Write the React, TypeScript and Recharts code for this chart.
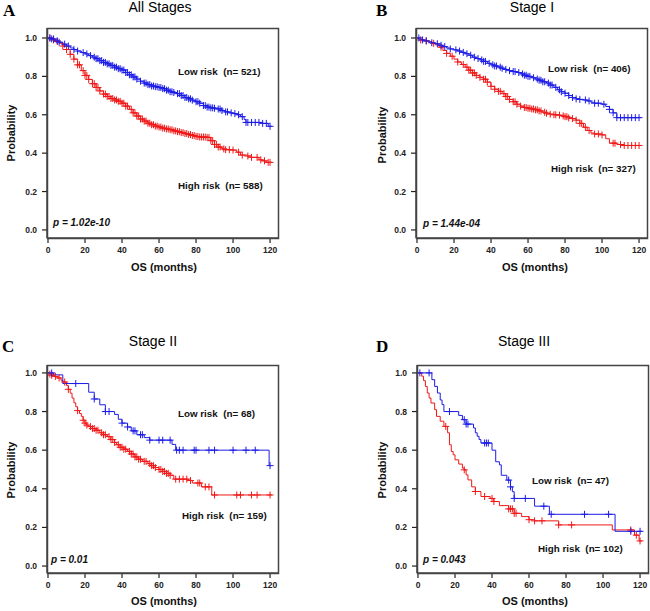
import { ComposedChart, Line, Scatter, XAxis, YAxis } from "recharts";

type Pt = [number, number];

const monthTicks = [0, 20, 40, 60, 80, 100, 120];
const probTicks = [0, 0.2, 0.4, 0.6, 0.8, 1.0];

// A - All Stages
const allLow: Pt[] = [
  [0, 1], [2, 0.995], [4, 0.985], [6, 0.978], [8, 0.968], [10, 0.958], [12, 0.948], [14, 0.94],
  [16, 0.932], [18, 0.924], [20, 0.917], [22, 0.908], [24, 0.9], [26, 0.892], [28, 0.882],
  [30, 0.873], [32, 0.865], [34, 0.857], [36, 0.848], [38, 0.84], [40, 0.833], [42, 0.82],
  [44, 0.808], [46, 0.797], [48, 0.786], [50, 0.775], [52, 0.765], [54, 0.757], [56, 0.75],
  [58, 0.746], [60, 0.742], [62, 0.736], [64, 0.728], [66, 0.72], [68, 0.716], [70, 0.71],
  [72, 0.7], [74, 0.69], [76, 0.683], [78, 0.676], [80, 0.668], [82, 0.66], [84, 0.648],
  [86, 0.64], [88, 0.636], [90, 0.634], [92, 0.63], [94, 0.622], [96, 0.615], [98, 0.61],
  [100, 0.606], [102, 0.6], [104, 0.59], [106, 0.575], [107, 0.56], [116, 0.555], [119, 0.54],
  [121, 0.54],
];
const allHigh: Pt[] = [
  [0, 1], [2, 0.99], [4, 0.982], [6, 0.972], [8, 0.958], [10, 0.94], [12, 0.915], [14, 0.89],
  [16, 0.86], [18, 0.83], [20, 0.805], [22, 0.784], [24, 0.762], [26, 0.742], [28, 0.724],
  [30, 0.708], [32, 0.695], [34, 0.685], [36, 0.677], [38, 0.67], [40, 0.66], [42, 0.645],
  [44, 0.628], [46, 0.61], [48, 0.593], [50, 0.578], [52, 0.567], [54, 0.556], [56, 0.548],
  [58, 0.541], [60, 0.536], [62, 0.53], [64, 0.526], [66, 0.522], [68, 0.516], [70, 0.512],
  [72, 0.507], [74, 0.502], [76, 0.497], [78, 0.492], [80, 0.487], [82, 0.484], [86, 0.482],
  [88, 0.465], [90, 0.445], [92, 0.432], [94, 0.422], [96, 0.418], [100, 0.416], [102, 0.405],
  [104, 0.39], [108, 0.385], [110, 0.378], [114, 0.365], [116, 0.36], [118, 0.352], [121, 0.352],
];
const allLowCensor = [
  1, 2, 3, 5, 6, 9, 11, 14, 16, 19, 21, 23, 25, 26, 27, 28, 29, 30, 31, 32, 33, 34, 35, 36, 37, 38,
  39, 40, 41, 42, 43, 44, 45, 46, 47, 48, 50, 52, 53, 54, 55, 56, 57, 58, 59, 60, 61, 62, 63, 64,
  65, 66, 67, 68, 70, 71, 72, 73, 74, 75, 76, 77, 78, 80, 81, 82, 84, 85, 86, 87, 88, 89, 90, 92,
  93, 94, 96, 97, 99, 101, 103, 105, 107, 108, 110, 112, 114, 116, 118, 120,
];
const allHighCensor = [
  1, 3, 5, 8, 10, 12, 14, 16, 17, 19, 20, 21, 22, 24, 25, 26, 27, 28, 30, 31, 32, 33, 34, 35, 36,
  37, 38, 39, 40, 41, 42, 43, 45, 46, 47, 48, 49, 50, 51, 52, 53, 54, 55, 56, 57, 58, 59, 60, 61,
  62, 63, 64, 65, 66, 67, 68, 69, 70, 71, 72, 73, 74, 75, 76, 77, 78, 79, 80, 81, 82, 83, 84, 85,
  86, 87, 88, 89, 90, 91, 92, 93, 95, 96, 98, 100, 103, 105, 108, 110, 113, 115, 117, 119, 120,
];

// B - Stage I
const s1Low: Pt[] = [
  [0, 1], [2, 0.99], [4, 0.985], [6, 0.98], [8, 0.975], [10, 0.97], [12, 0.962], [14, 0.955],
  [16, 0.948], [18, 0.943], [20, 0.938], [22, 0.932], [24, 0.925], [26, 0.918], [28, 0.91],
  [30, 0.9], [32, 0.893], [34, 0.886], [36, 0.878], [38, 0.868], [40, 0.86], [42, 0.854],
  [44, 0.848], [46, 0.842], [48, 0.836], [50, 0.83], [52, 0.825], [54, 0.82], [56, 0.813],
  [58, 0.806], [60, 0.8], [62, 0.793], [64, 0.786], [66, 0.78], [68, 0.772], [70, 0.765],
  [72, 0.755], [74, 0.743], [76, 0.73], [78, 0.72], [80, 0.712], [82, 0.7], [84, 0.69],
  [86, 0.683], [88, 0.68], [90, 0.677], [92, 0.672], [94, 0.665], [96, 0.66], [100, 0.655],
  [102, 0.643], [104, 0.628], [106, 0.61], [108, 0.585], [121, 0.585],
];
const s1High: Pt[] = [
  [0, 1], [2, 0.99], [4, 0.985], [6, 0.98], [8, 0.972], [10, 0.964], [12, 0.952], [14, 0.935],
  [16, 0.92], [18, 0.905], [20, 0.89], [22, 0.875], [24, 0.862], [26, 0.848], [28, 0.832],
  [30, 0.818], [32, 0.805], [34, 0.795], [36, 0.785], [38, 0.77], [40, 0.748], [42, 0.733],
  [44, 0.722], [46, 0.71], [48, 0.695], [50, 0.68], [52, 0.668], [54, 0.655], [56, 0.645],
  [58, 0.638], [60, 0.634], [62, 0.63], [64, 0.626], [66, 0.62], [68, 0.613], [70, 0.608],
  [72, 0.603], [74, 0.6], [76, 0.598], [78, 0.594], [80, 0.59], [82, 0.584], [84, 0.58],
  [86, 0.572], [88, 0.555], [90, 0.535], [92, 0.518], [94, 0.505], [96, 0.5], [100, 0.495],
  [102, 0.475], [104, 0.452], [108, 0.445], [112, 0.44], [121, 0.44],
];
const s1LowCensor = [
  1, 3, 5, 8, 11, 13, 15, 18, 21, 23, 25, 27, 29, 31, 33, 35, 36, 37, 39, 41, 42, 43, 45, 46, 48,
  50, 52, 53, 55, 57, 58, 59, 60, 61, 63, 65, 66, 67, 68, 69, 71, 72, 73, 75, 77, 78, 80, 82, 84,
  86, 88, 91, 93, 96, 98, 101, 104, 106, 108, 110, 112, 114, 116, 118, 120,
];
const s1HighCensor = [
  2, 5, 9, 13, 16, 19, 22, 25, 27, 28, 29, 30, 31, 32, 34, 36, 37, 38, 40, 42, 44, 45, 47, 48, 49,
  50, 52, 53, 54, 56, 58, 59, 60, 61, 62, 63, 64, 65, 66, 67, 69, 70, 72, 74, 75, 77, 79, 80, 81,
  82, 84, 86, 88, 89, 91, 93, 96, 98, 100, 106, 107, 110, 112, 114, 116, 118, 120,
];

// C - Stage II
const s2Low: Pt[] = [
  [0, 1], [3, 0.99], [8, 0.945], [22, 0.9], [25, 0.865], [28, 0.835], [31, 0.8], [36, 0.785],
  [38, 0.76], [40, 0.74], [43, 0.72], [45, 0.7], [48, 0.68], [52, 0.665], [55, 0.652],
  [67, 0.63], [69, 0.6], [119.5, 0.52], [120.5, 0.52],
];
const s2High: Pt[] = [
  [0, 1], [1, 0.994], [2, 0.988], [3, 0.982], [5, 0.974], [7, 0.962], [8, 0.953], [10, 0.935],
  [11, 0.915], [12, 0.895], [13, 0.87], [14, 0.845], [15, 0.825], [16, 0.805], [17, 0.79],
  [18, 0.775], [19, 0.755], [20, 0.74], [21, 0.73], [22, 0.722], [24, 0.712], [26, 0.703],
  [28, 0.69], [30, 0.68], [32, 0.67], [34, 0.655], [36, 0.64], [37, 0.628], [39, 0.615],
  [41, 0.605], [43, 0.594], [45, 0.58], [47, 0.565], [49, 0.553], [51, 0.542], [54, 0.53],
  [56, 0.52], [58, 0.51], [60, 0.5], [62, 0.49], [64, 0.48], [66, 0.47], [68, 0.45], [76, 0.443],
  [78, 0.43], [83, 0.41], [88.5, 0.368], [121, 0.368],
];
const s2LowCensor = [
  2, 15, 25, 31, 33, 40, 43, 46, 47, 50, 51, 55, 60, 62, 66, 69.5, 71, 73, 79, 80, 87, 90, 100,
  107, 112, 120,
];
const s2HighCensor = [
  1, 2, 4, 6, 9, 11, 16, 19, 20, 21, 23, 24, 25, 26, 27, 29, 30, 31, 33, 34, 35, 36, 38, 39, 40,
  41, 42, 44, 45, 46, 47, 48, 49, 50, 52, 53, 55, 56, 57, 58, 60, 61, 62, 63, 64, 65, 66, 69, 71,
  73, 75, 77, 81, 82, 85, 87, 90, 102, 104, 110, 113, 120,
];

// D - Stage III
const s3Low: Pt[] = [
  [0, 1], [7.5, 0.965], [9, 0.93], [10.5, 0.896], [12, 0.86], [13, 0.836], [14, 0.8], [22, 0.78],
  [24, 0.758], [26, 0.735], [30, 0.715], [31, 0.69], [32, 0.672], [33, 0.655], [34, 0.637],
  [40, 0.6], [42, 0.54], [44, 0.524], [45, 0.47], [48, 0.445], [50, 0.41], [51, 0.385],
  [52, 0.35], [63, 0.31], [71, 0.268], [106.5, 0.18], [121, 0.18],
];
const s3High: Pt[] = [
  [0, 1], [2, 0.983], [3, 0.96], [4, 0.93], [5, 0.896], [6, 0.87], [7, 0.844], [9, 0.81],
  [10, 0.775], [12, 0.75], [14, 0.723], [16, 0.69], [17, 0.628], [18, 0.593], [19, 0.576],
  [20, 0.55], [22, 0.528], [24, 0.507], [25, 0.498], [26, 0.472], [27, 0.446], [29, 0.41],
  [31, 0.386], [34, 0.36], [39, 0.35], [41, 0.334], [44, 0.313], [49, 0.296], [52, 0.273],
  [56, 0.256], [60, 0.24], [63, 0.234], [76, 0.213], [105, 0.187], [117, 0.16], [119.5, 0.13],
  [121, 0.13],
];
const s3LowCensor = [1, 6, 17, 25, 26, 27, 36, 37, 38, 49, 50, 52, 58, 68, 72, 90, 103, 115, 120];
const s3HighCensor = [15, 25, 31, 36, 40, 41, 49, 50, 51, 52, 53, 60, 63, 67, 76, 83, 115, 118, 120];

const BLUE = "#1c1ce6";
const RED = "#f01818";
const BOX = "#444";
const FONT = "Arial, 'Liberation Sans', sans-serif";

const rows = (pts: Pt[]) => pts.map(([t, s]) => ({ t, s }));

// value of the KM step curve at time t
const survAt = (pts: Pt[], t: number) => {
  let s = pts[0][1];
  for (const [pt, ps] of pts) {
    if (pt <= t) s = ps;
  }
  return s;
};

const censorRows = (pts: Pt[], times: number[]) => times.map((t) => ({ t, s: survAt(pts, t) }));

const plus = (color: string) => (props: any) => {
  const { cx, cy } = props;
  if (cx == null || cy == null) return <g />;
  return <path d={`M${cx - 3.5},${cy}h7M${cx},${cy - 3.5}v7`} stroke={color} strokeWidth={1} fill="none" />;
};

const tickStyle = { fontSize: 8.5, fontWeight: 700, fill: "#222", fontFamily: FONT };

function KMPanel(props: {
  left: number;
  top: number;
  plotHeight: number;
  yDomain: [number, number];
  low: Pt[];
  high: Pt[];
  lowCensor: number[];
  highCensor: number[];
}) {
  const { left, top, plotHeight, yDomain, low, high, lowCensor, highCensor } = props;
  const xDomain: [number, number] = [-0.54, 124.3];
  const h = 28 + plotHeight + 62;
  return (
    <div style={{ position: "absolute", left, top, width: 282, height: h }}>
      <ComposedChart width={282} height={h} margin={{ top: 28, right: 4, left: 0, bottom: 0 }}>
        <XAxis
          type="number"
          dataKey="t"
          domain={xDomain}
          ticks={monthTicks}
          allowDataOverflow
          axisLine={{ stroke: BOX, strokeWidth: 1.5 }}
          tickLine={{ stroke: "#222", strokeWidth: 1.2 }}
          tickSize={5}
          tickMargin={4}
          height={62}
          tick={tickStyle}
          interval={0}
        />
        <YAxis
          type="number"
          dataKey="s"
          domain={yDomain}
          ticks={probTicks}
          allowDataOverflow
          axisLine={{ stroke: BOX, strokeWidth: 1.5 }}
          tickLine={{ stroke: "#222", strokeWidth: 1.2 }}
          tickSize={5}
          tickMargin={5}
          width={47}
          tick={tickStyle}
          tickFormatter={(v: number) => v.toFixed(1)}
          interval={0}
        />
        <Line data={rows(high)} dataKey="s" type="stepAfter" stroke={RED} strokeWidth={1} dot={false} isAnimationActive={false} />
        <Line data={rows(low)} dataKey="s" type="stepAfter" stroke={BLUE} strokeWidth={1} dot={false} isAnimationActive={false} />
        <Scatter data={censorRows(high, highCensor)} dataKey="s" shape={plus(RED)} isAnimationActive={false} />
        <Scatter data={censorRows(low, lowCensor)} dataKey="s" shape={plus(BLUE)} isAnimationActive={false} />
      </ComposedChart>
    </div>
  );
}

const panelLetters = ["A", "B", "C", "D"];
const panelTitles = ["All Stages", "Stage I", "Stage II", "Stage III"];
const lowLabels = ["Low risk  (n= 521)", "Low risk  (n= 406)", "Low risk  (n= 68)", "Low risk  (n= 47)"];
const highLabels = ["High risk  (n= 588)", "High risk  (n= 327)", "High risk  (n= 159)", "High risk  (n= 102)"];
const pValues = ["p = 1.02e-10", "p = 1.44e-04", "p = 0.01", "p = 0.043"];

// layout (pixels in the 650x611 figure)
const boxes = [
  { x: 47, y: 28, w: 231, h: 210 },
  { x: 416, y: 28, w: 231, h: 210 },
  { x: 47, y: 365, w: 231, h: 208 },
  { x: 417, y: 365, w: 231, h: 208 },
];
const letterPos: Pt[] = [[3, 16], [376, 15.5], [2, 352], [376, 352]];
const titlePos: Pt[] = [[160, 12], [532, 12], [153, 346], [524, 346]];
const lowPos: Pt[] = [[178, 75], [548, 72], [178, 417], [532, 484]];
const highPos: Pt[] = [[178, 189], [551, 172], [182, 519], [538, 552]];
const pPos: Pt[] = [[53, 226], [423, 227], [51, 563], [423, 563]];
const xLabelPos: Pt[] = [[164, 271], [535, 271], [164, 605], [535, 605]];
const yLabelPos: Pt[] = [[14.5, 133], [385.5, 135], [14.5, 470], [385.5, 470]];

export default function App() {
  const boldText = { fontFamily: FONT, fontWeight: 700, fill: "#111" } as const;
  return (
    <div style={{ position: "absolute", left: 0, top: 0, width: 650, height: 611, background: "#fff", overflow: "hidden" }}>
      <KMPanel left={0} top={0} plotHeight={210} yDomain={[-0.042, 1.052]} low={allLow} high={allHigh} lowCensor={allLowCensor} highCensor={allHighCensor} />
      <KMPanel left={369} top={0} plotHeight={210} yDomain={[-0.042, 1.052]} low={s1Low} high={s1High} lowCensor={s1LowCensor} highCensor={s1HighCensor} />
      <KMPanel left={0} top={337} plotHeight={208} yDomain={[-0.036, 1.041]} low={s2Low} high={s2High} lowCensor={s2LowCensor} highCensor={s2HighCensor} />
      <KMPanel left={370} top={337} plotHeight={208} yDomain={[-0.036, 1.041]} low={s3Low} high={s3High} lowCensor={s3LowCensor} highCensor={s3HighCensor} />
      <svg width={650} height={611} style={{ position: "absolute", left: 0, top: 0 }}>
        {boxes.map((b, i) => (
          <path
            key={"b" + i}
            d={`M${b.x + 0.5},${b.y + 0.5}H${b.x + b.w + 0.5}V${b.y + b.h + 0.5}H${b.x + 0.5}Z`}
            fill="none"
            stroke={BOX}
            strokeWidth={1.5}
          />
        ))}
        {panelLetters.map((l, i) => (
          <text key={l} x={letterPos[i][0]} y={letterPos[i][1]} fontFamily="'Liberation Serif', 'Times New Roman', serif" fontWeight={700} fontSize={17} fill="#000">
            {l}
          </text>
        ))}
        {panelTitles.map((t, i) => (
          <text key={t} x={titlePos[i][0]} y={titlePos[i][1]} textAnchor="middle" fontFamily={FONT} fontSize={14} fill="#000">
            {t}
          </text>
        ))}
        {lowLabels.map((t, i) => (
          <text key={t} x={lowPos[i][0]} y={lowPos[i][1]} fontSize={9.8} style={{ ...boldText, whiteSpace: "pre" }}>
            {t}
          </text>
        ))}
        {highLabels.map((t, i) => (
          <text key={t} x={highPos[i][0]} y={highPos[i][1]} fontSize={9.8} style={{ ...boldText, whiteSpace: "pre" }}>
            {t}
          </text>
        ))}
        {pValues.map((t, i) => (
          <text key={t} x={pPos[i][0]} y={pPos[i][1]} fontSize={10} fontStyle="italic" style={boldText}>
            {t}
          </text>
        ))}
        {xLabelPos.map((p, i) => (
          <text key={"x" + i} x={p[0]} y={p[1]} textAnchor="middle" fontSize={11} style={boldText}>
            OS (months)
          </text>
        ))}
        {yLabelPos.map((p, i) => (
          <text key={"y" + i} x={p[0]} y={p[1]} textAnchor="middle" fontSize={11} transform={`rotate(-90 ${p[0]} ${p[1]})`} style={boldText}>
            Probability
          </text>
        ))}
      </svg>
    </div>
  );
}
